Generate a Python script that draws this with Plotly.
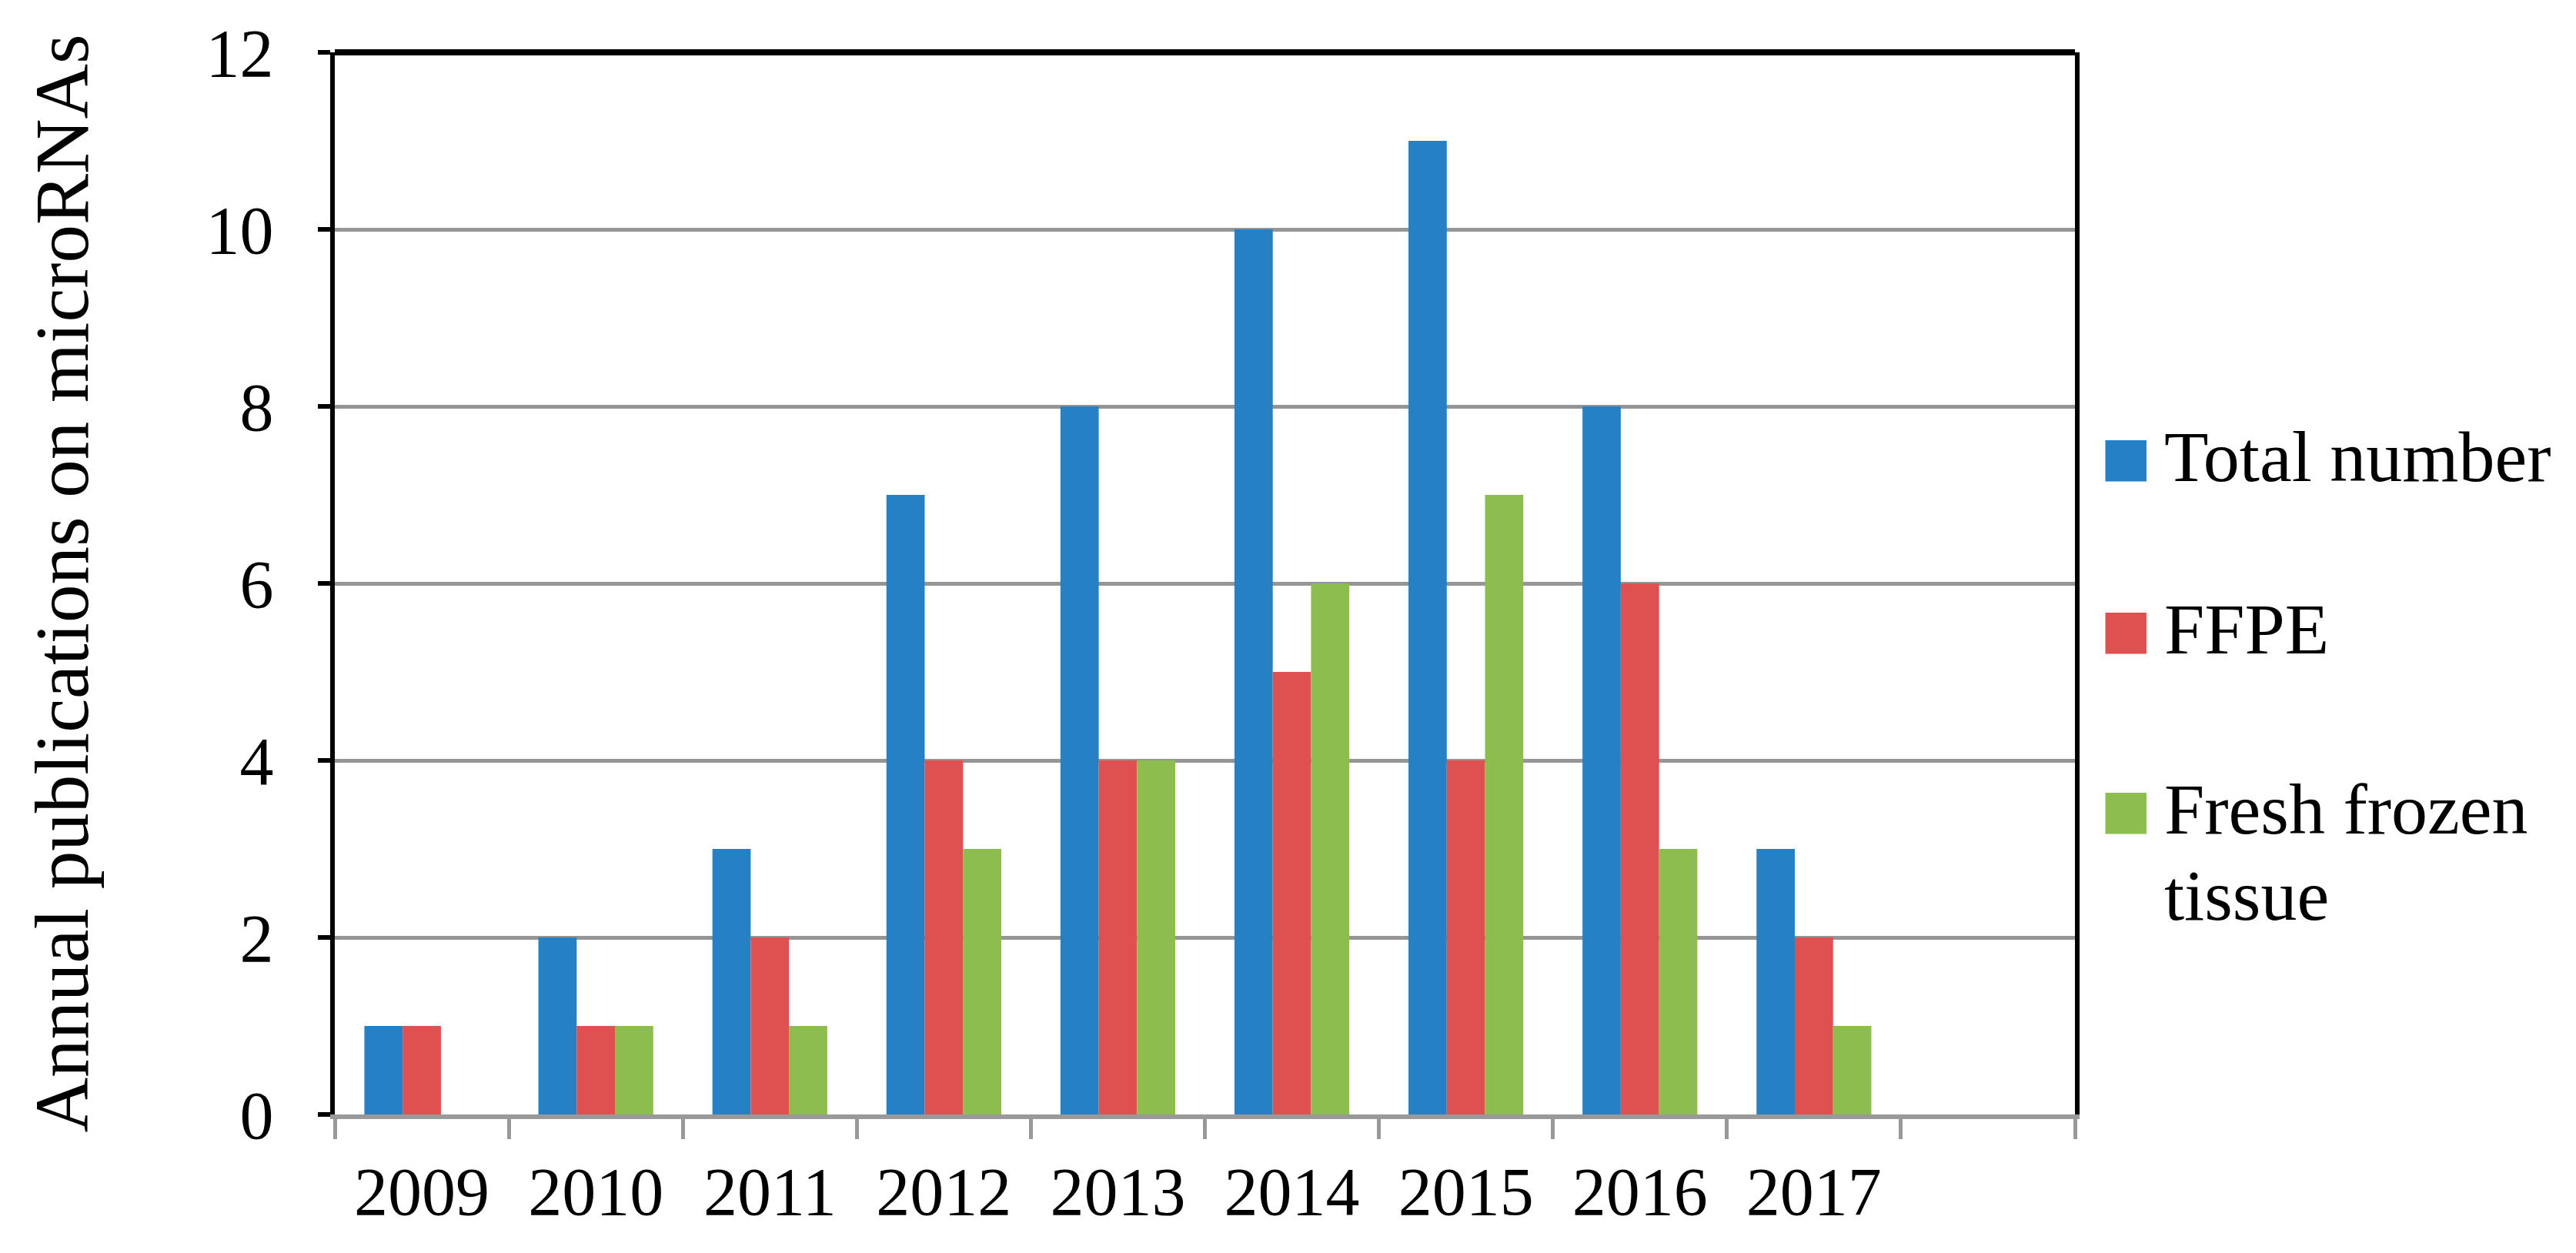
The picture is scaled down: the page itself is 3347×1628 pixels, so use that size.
import plotly.graph_objects as go

years = ["2009", "2010", "2011", "2012", "2013", "2014", "2015", "2016", "2017", " "]
total_number = [1, 2, 3, 7, 8, 10, 11, 8, 3, None]
ffpe = [1, 1, 2, 4, 4, 5, 4, 6, 2, None]
fresh_frozen = [0, 1, 1, 3, 4, 6, 7, 3, 1, None]

series_names = ["Total number", "FFPE", "Fresh frozen tissue"]
series_values = [total_number, ffpe, fresh_frozen]
series_colors = ["#2581c4", "#df5050", "#8dbd4f"]

FONT = "Liberation Serif"
L, R, T, B = 427, 2688, 60, 1440
W, H = 3347, 1628

fig = go.Figure()
for name, vals, col in zip(series_names, series_values, series_colors):
    fig.add_trace(go.Bar(x=years, y=vals, name=name, marker=dict(color=col, line=dict(width=0)),
                         showlegend=False))

fig.update_layout(
    width=W, height=H,
    margin=dict(l=L, r=W - R, t=T, b=H - B, autoexpand=False),
    paper_bgcolor="white", plot_bgcolor="white",
    barmode="group", bargap=0.34, bargroupgap=0,
    font=dict(family=FONT, color="black"),
    xaxis=dict(
        type="category", tickson="boundaries",
        showline=True, linecolor="#999999", linewidth=6,
        ticks="outside", tickcolor="#999999", ticklen=26, tickwidth=5,
        showgrid=False, tickfont=dict(size=88, family=FONT), ticklabelstandoff=18,
    ),
    yaxis=dict(
        range=[0, 12], dtick=2, tick0=0,
        showline=True, linecolor="black", linewidth=6, mirror=True,
        ticks="outside", tickcolor="black", ticklen=16, tickwidth=6,
        showgrid=True, gridcolor="#959595", gridwidth=5, zeroline=False,
        tickfont=dict(size=88, family=FONT), ticklabelstandoff=40,
        title=dict(text="Annual publications on microRNAs", font=dict(size=99, family=FONT), standoff=122),
    ),
    shapes=[dict(type="line", xref="paper", yref="paper", x0=0, x1=1, y0=1, y1=1,
                 line=dict(color="black", width=8))],
)

# legend built as annotations (square swatches + labels)
pw, ph = R - L, B - T
def px(x): return (x - L) / pw
def py(y): return (B - y) / ph

legend_rows = [585, 809, 1043]
for name, col, yc in zip(series_names, series_colors, legend_rows):
    fig.add_annotation(xref="paper", yref="paper", x=px(2754), y=py(yc), text="■",
                       showarrow=False, xanchor="center", yanchor="middle",
                       font=dict(size=70, color=col, family="DejaVu Sans"))
label_lines = [["Total number"], ["FFPE"], ["Fresh frozen", "tissue"]]
for lines, yc in zip(label_lines, legend_rows):
    for i, ln in enumerate(lines):
        fig.add_annotation(xref="paper", yref="paper", x=px(2802), y=py(yc + i * 112), text=ln,
                           showarrow=False, xanchor="left", yanchor="middle",
                           font=dict(size=94, color="black", family=FONT))

fig.write_html("out.html")
